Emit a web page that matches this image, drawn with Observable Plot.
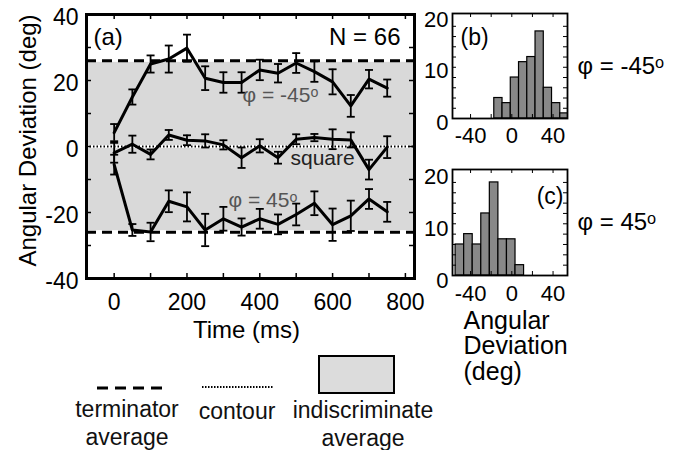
<!DOCTYPE html>
<html><head><meta charset="utf-8">
<script src="https://cdn.jsdelivr.net/npm/d3@7"></script>
<script src="https://cdn.jsdelivr.net/npm/@observablehq/plot@0.6"></script>
<style>
body{margin:0;background:#fff;font-family:"Liberation Sans",Arial,Helvetica,sans-serif;}
#root{position:relative;width:677px;height:450px;overflow:hidden;background:#fff;}
.abs{position:absolute;}
.lg{position:absolute;font-size:23px;color:#111;transform:translate(-50%,-50%);white-space:nowrap;line-height:1;}
</style></head><body>
<div id="root">
  <div id="main" class="abs" style="left:0;top:0"></div>
  <div id="histB" class="abs" style="left:420px;top:0"></div>
  <div id="histC" class="abs" style="left:420px;top:150px"></div>
  <svg class="abs" style="left:0;top:340px" width="420" height="60">
    <line x1="97" y1="48" x2="162" y2="48" stroke="#000" stroke-width="3" stroke-dasharray="11,7"/>
    <line x1="202" y1="47" x2="273" y2="47" stroke="#000" stroke-width="2" stroke-dasharray="1.5,1.5"/>
    <rect x="319" y="16" width="75" height="37" fill="#dcdcdc" stroke="#000" stroke-width="2"/>
  </svg>
  <div class="lg" style="left:127px;top:409px">terminator</div>
  <div class="lg" style="left:127px;top:437px">average</div>
  <div class="lg" style="left:237px;top:411px">contour</div>
  <div class="lg" style="left:363px;top:410px">indiscriminate</div>
  <div class="lg" style="left:363px;top:438px">average</div>
</div>
<script>
// ---- data: panel (a) ----
const times = [0, 50, 100, 150, 200, 250, 300, 350, 400, 450, 500, 550, 600, 650, 700, 750];
const minus45    = [4.2, 15.0, 25.0, 26.5, 29.8, 20.7, 19.4, 19.4, 23.2, 22.2, 25.3, 22.7, 19.6, 12.3, 20.4, 17.7];
const minus45Err = [2.6, 2.3, 2.6, 4.1, 4.1, 3.6, 3.1, 3.1, 3.1, 2.8, 3.0, 3.1, 3.8, 3.3, 2.8, 2.6];
const square     = [-1.9, 0.7, -2.4, 3.5, 1.9, 1.7, 0.5, -3.4, 0.2, -3.4, 2.2, 2.7, 2.2, 2.0, -7.0, -0.2];
const squareErr  = [3.0, 2.6, 1.5, 1.5, 1.5, 2.0, 1.4, 3.1, 2.0, 1.8, 1.5, 1.1, 3.0, 2.3, 3.0, 3.3];
const plus45     = [-5.5, -25.3, -25.9, -16.6, -18.3, -25.3, -21.9, -24.4, -21.9, -23.6, -20.6, -17.2, -23.7, -21.0, -15.9, -19.8];
const plus45Err  = [3.0, 1.8, 2.8, 3.3, 4.4, 4.9, 3.6, 2.6, 3.0, 3.0, 3.3, 3.6, 4.9, 4.6, 3.0, 3.0];
const terminatorAvg = [26, -26];
const indiscriminateBand = [-25.5, 25.5];
const contourLevel = [0];
const xDomain = [-76, 825];
const yDomain = [-40, 40];
const xTickLabels = [0, 200, 400, 600, 800];
const yTickLabels = [-40, -20, 0, 20, 40];
const xMinorTicks = [0, 100, 200, 300, 400, 500, 600, 700, 800];
const yMinorTicks = [-30, -20, -10, 0, 10, 20, 30];

// ---- data: histograms (b) and (c) ----
const bEdges  = [-17, -9, -1, 7, 15, 23, 31, 39, 47, 55];
const bCounts = [4, 3, 8, 11, 12, 17, 6, 3, 1];
const cEdges  = [-54.5, -46.2, -37.9, -29.6, -21.3, -13.0, -4.7, 3.6, 11.9];
const cCounts = [6, 8, 6, 12, 18, 7, 7, 2];
const histXDomain = [-57.5, 54];
const histYDomain = [0, 20.5];
const histXTickLabels = [-40, 0, 40];
const histYTickLabels = [0, 10, 20];
const histXMinor = [-40, -20, 0, 20, 40];
const histYMinor = [2, 4, 6, 8, 10, 12, 14, 16, 18];

const font = "Liberation Sans, Arial, Helvetica, sans-serif";
const fmt = d => String(d);
const cap = {draw(ctx) { ctx.moveTo(-4, 0); ctx.lineTo(4, 0); }};

// ---- panel (a) ----
{
  const W = 430, H = 345, mL = 86, mR = 16, mT = 14, mB = 67;
  const iW = W - mL - mR, iH = H - mT - mB, tk = 5;
  const row = (vals, errs, name) => times.map((t, i) => ({t, v: vals[i], e: errs[i], name}));
  const series = [row(minus45, minus45Err, "-45"), row(square, squareErr, "square"), row(plus45, plus45Err, "45")];
  const all = series.flat();
  const p = Plot.plot({
    width: W, height: H, marginLeft: mL, marginRight: mR, marginTop: mT, marginBottom: mB,
    style: {fontFamily: font, fontSize: "23px", color: "#000", background: "transparent", overflow: "visible"},
    x: {domain: xDomain}, y: {domain: yDomain},
    marks: [
      Plot.rect([indiscriminateBand], {y1: d => d[0], y2: d => d[1], fill: "#d9d9d9"}),
      Plot.ruleY(contourLevel, {stroke: "#fff", strokeWidth: 3}),
      Plot.ruleY(contourLevel, {stroke: "#000", strokeWidth: 2, strokeDasharray: "1.5,2"}),
      Plot.ruleY(terminatorAvg, {stroke: "#000", strokeWidth: 3, strokeDasharray: "10,6"}),
      Plot.ruleY(yMinorTicks, {stroke: "#000", strokeWidth: 1.5, insetRight: iW - tk}),
      Plot.ruleY(yMinorTicks, {stroke: "#000", strokeWidth: 1.5, insetLeft: iW - tk}),
      Plot.ruleX(xMinorTicks, {stroke: "#000", strokeWidth: 1.5, insetBottom: iH - tk}),
      Plot.ruleX(xMinorTicks, {stroke: "#000", strokeWidth: 1.5, insetTop: iH - tk}),
      Plot.ruleX(all, {x: "t", y1: d => d.v - d.e, y2: d => d.v + d.e, stroke: "#000", strokeWidth: 1.8}),
      Plot.dot(all, {x: "t", y: d => d.v - d.e, symbol: cap, stroke: "#000", fill: "none", strokeWidth: 1.8}),
      Plot.dot(all, {x: "t", y: d => d.v + d.e, symbol: cap, stroke: "#000", fill: "none", strokeWidth: 1.8}),
      ...series.map(s => Plot.line(s, {x: "t", y: "v", stroke: "#000", strokeWidth: 3})),
      Plot.frame({stroke: "#000", strokeWidth: 3}),
      Plot.axisX({ticks: xTickLabels, tickSize: 0, tickPadding: 15, tickFormat: fmt, label: null}),
      Plot.axisY({ticks: yTickLabels, tickSize: 0, tickPadding: 8, tickFormat: fmt, label: null, dy: 3}),
      Plot.text(["Time (ms)"], {text: d => d, frameAnchor: "bottom", dx: -4, dy: 52, lineAnchor: "middle", fontSize: 24}),
      Plot.text(["Angular Deviation (deg)"], {text: d => d, frameAnchor: "left", dx: -58, dy: -6, rotate: -90, lineAnchor: "middle", textAnchor: "middle", fontSize: 24}),
      Plot.text(["(a)"], {text: d => d, frameAnchor: "top-left", dx: 7, dy: 22.5, textAnchor: "start", lineAnchor: "middle", fontSize: 24}),
      Plot.text(["N = 66"], {text: d => d, frameAnchor: "top-right", dx: -14, dy: 23, textAnchor: "end", lineAnchor: "middle", fontSize: 24}),
      Plot.text(["φ = -45ᵒ"], {text: d => d, frameAnchor: "top-left", dx: 156, dy: 81, textAnchor: "start", lineAnchor: "middle", fontSize: 21, fill: "#555"}),
      Plot.text(["square"], {text: d => d, frameAnchor: "top-left", dx: 204, dy: 144, textAnchor: "start", lineAnchor: "middle", fontSize: 21, fill: "#222"}),
      Plot.text(["φ = 45ᵒ"], {text: d => d, frameAnchor: "top-left", dx: 142, dy: 186, textAnchor: "start", lineAnchor: "middle", fontSize: 21, fill: "#555"})
    ]
  });
  document.getElementById("main").appendChild(p);
}

// ---- histograms ----
function histogram(el, edges, counts, opts) {
  const W = 257, mL = 32, mR = 110;
  const {H, mT, mB, tickPad, labelDy, side, extra} = opts;
  const iW = W - mL - mR, iH = H - mT - mB, tk = 4;
  const bins = counts.map((n, i) => ({x1: edges[i], x2: edges[i + 1], n}));
  const p = Plot.plot({
    width: W, height: H, marginLeft: mL, marginRight: mR, marginTop: mT, marginBottom: mB,
    style: {fontFamily: font, fontSize: "22px", color: "#000", background: "transparent", overflow: "visible"},
    x: {domain: histXDomain}, y: {domain: histYDomain},
    marks: [
      Plot.rect(bins, {x1: "x1", x2: "x2", y1: 0, y2: "n", fill: "#888", stroke: "#000", strokeWidth: 1.2, clip: true}),
      Plot.ruleY(histYMinor, {stroke: "#000", strokeWidth: 1, insetRight: iW - tk}),
      Plot.ruleY(histYMinor, {stroke: "#000", strokeWidth: 1, insetLeft: iW - tk}),
      Plot.ruleX(histXMinor, {stroke: "#000", strokeWidth: 1, insetBottom: iH - tk}),
      Plot.ruleX(histXMinor, {stroke: "#000", strokeWidth: 1, insetTop: iH - tk}),
      Plot.frame({stroke: "#000", strokeWidth: 1.8}),
      Plot.axisX({ticks: histXTickLabels, tickSize: 0, tickPadding: tickPad, tickFormat: fmt, label: null}),
      Plot.axisY({ticks: histYTickLabels, tickSize: 0, tickPadding: 4, tickFormat: fmt, label: null, dy: labelDy}),
      Plot.text([side], {text: d => d, frameAnchor: "right", dx: 10, textAnchor: "start", lineAnchor: "middle", fontSize: 24}),
      ...extra
    ]
  });
  document.getElementById(el).appendChild(p);
}
histogram("histB", bEdges, bCounts, {
  H: 150, mT: 13, mB: 32, tickPad: 9, labelDy: 4, side: "φ = -45ᵒ",
  extra: [Plot.text(["(b)"], {text: d => d, frameAnchor: "top-left", dx: 8, dy: 24, textAnchor: "start", lineAnchor: "middle", fontSize: 23})]
});
histogram("histC", cEdges, cCounts, {
  H: 300, mT: 19, mB: 175, tickPad: 10, labelDy: 5, side: "φ = 45ᵒ",
  extra: [
    Plot.text(["(c)"], {text: d => d, frameAnchor: "top-right", dx: -4, dy: 27, textAnchor: "end", lineAnchor: "middle", fontSize: 23}),
    Plot.text(["Angular\nDeviation\n(deg)"], {text: d => d, frameAnchor: "bottom-left", dx: 11, dy: 35, textAnchor: "start", lineAnchor: "top", lineHeight: 1.02, fontSize: 25})
  ]
});
</script>
</body></html>
